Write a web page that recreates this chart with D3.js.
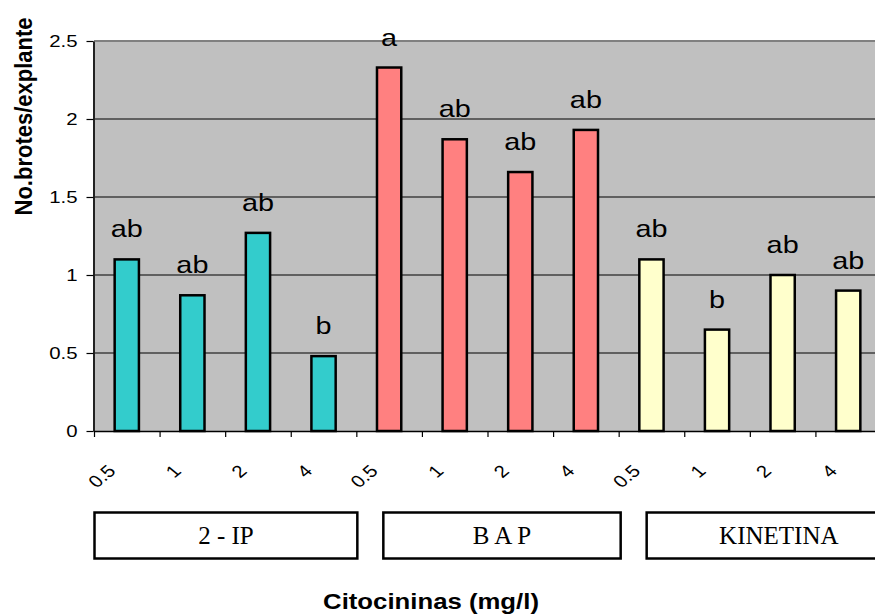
<!DOCTYPE html>
<html>
<head>
<meta charset="utf-8">
<script src="https://cdn.jsdelivr.net/npm/d3@7"></script>
<style>
  html, body { margin: 0; padding: 0; background: #fff; }
  svg { display: block; }
</style>
</head>
<body>
<svg id="chart" width="875" height="615"></svg>
<script>
// Shoots per explant by cytokinin type and concentration (mg/l)
const groups = ["2 - IP", "B A P", "KINETINA"];
const doses = ["0.5", "1", "2", "4"];
const values2IP = [1.1, 0.87, 1.27, 0.48];
const valuesBAP = [2.33, 1.87, 1.66, 1.93];
const valuesKIN = [1.1, 0.65, 1.0, 0.9];
const letters2IP = ["ab", "ab", "ab", "b"];
const lettersBAP = ["a", "ab", "ab", "ab"];
const lettersKIN = ["ab", "b", "ab", "ab"];
const yTicks = [0, 0.5, 1, 1.5, 2, 2.5];
const groupColors = ["#33CCCC", "#FF8080", "#FFFFCC"];

const seriesValues = [values2IP, valuesBAP, valuesKIN];
const seriesLetters = [letters2IP, lettersBAP, lettersKIN];
const rows = [];
groups.forEach((g, gi) => {
  doses.forEach((d, di) => {
    rows.push({ key: gi + "-" + di, group: gi, dose: d,
                value: seriesValues[gi][di], letter: seriesLetters[gi][di] });
  });
});

const svg = d3.select("#chart");
const plot = { left: 94, right: 881, top: 41, bottom: 431 };
const sx = 1.2; // horizontal stretch applied to sans-serif text

const x = d3.scaleBand()
  .domain(rows.map(r => r.key))
  .range([plot.left, plot.right])
  .paddingInner(0.63)
  .paddingOuter(0.315);
const bounds = d3.scaleLinear().domain([0, rows.length]).range([plot.left, plot.right]);
const y = d3.scaleLinear().domain([0, 2.5]).range([plot.bottom, plot.top]);

// plot background
svg.append("rect")
  .attr("x", plot.left).attr("y", plot.top)
  .attr("width", plot.right - plot.left).attr("height", plot.bottom - plot.top)
  .attr("fill", "#C0C0C0");

// gridlines
svg.append("g").selectAll("line")
  .data(yTicks.filter(t => t > 0 && t < 2.5))
  .join("line")
  .attr("x1", plot.left).attr("x2", plot.right)
  .attr("y1", d => y(d)).attr("y2", d => y(d))
  .attr("stroke", "#000").attr("stroke-width", 1);

// top border of plot area
svg.append("line")
  .attr("x1", plot.left).attr("x2", plot.right)
  .attr("y1", plot.top).attr("y2", plot.top)
  .attr("stroke", "#808080").attr("stroke-width", 2);

// bars
svg.append("g").selectAll("rect")
  .data(rows)
  .join("rect")
  .attr("x", d => x(d.key))
  .attr("width", x.bandwidth())
  .attr("y", d => y(d.value))
  .attr("height", d => y(0) - y(d.value))
  .attr("fill", d => groupColors[d.group])
  .attr("stroke", "#000").attr("stroke-width", 2.5);

// y axis
const yAxis = svg.append("g")
  .attr("transform", `translate(${plot.left - 0.5},0)`)
  .call(d3.axisLeft(y).tickValues(yTicks).tickSize(7).tickSizeOuter(0)
        .tickFormat(d3.format("")));
yAxis.select(".domain").attr("stroke", "#222").attr("stroke-width", 2);
yAxis.selectAll(".tick line").attr("stroke", "#000").attr("stroke-width", 1.2);
yAxis.selectAll(".tick text").remove();
yAxis.selectAll(".tick").append("text")
  .attr("transform", `translate(-16,0) scale(${sx},1)`)
  .attr("dy", "0.35em")
  .attr("text-anchor", "end")
  .attr("fill", "#000")
  .style("font-family", "Arial, 'Liberation Sans', sans-serif")
  .style("font-size", "17px")
  .text(d => d);

// x axis with ticks at category boundaries
const xAxis = svg.append("g")
  .attr("transform", `translate(0,${plot.bottom})`)
  .call(d3.axisBottom(bounds).tickValues(d3.range(0, rows.length + 1))
        .tickSize(6).tickSizeOuter(0).tickFormat(""));
xAxis.select(".domain").attr("stroke", "#000").attr("stroke-width", 1.5);
xAxis.selectAll(".tick line").attr("stroke", "#000").attr("stroke-width", 1.2);

// rotated dose labels
svg.append("g").selectAll("text")
  .data(rows)
  .join("text")
  .attr("transform", d => `translate(${x(d.key) + x.bandwidth() / 2 - 10},${plot.bottom + 41}) scale(${sx},1) rotate(-45)`)
  .attr("text-anchor", "end")
  .attr("fill", "#000")
  .style("font-family", "Arial, 'Liberation Sans', sans-serif")
  .style("font-size", "17px")
  .text(d => d.dose);

// significance letters above bars
svg.append("g").selectAll("text")
  .data(rows)
  .join("text")
  .attr("transform", d => `translate(${x(d.key) + x.bandwidth() / 2},${y(d.value) - 22}) scale(${sx},1)`)
  .attr("text-anchor", "middle")
  .attr("fill", "#000")
  .style("font-family", "Arial, 'Liberation Sans', sans-serif")
  .style("font-size", "24px")
  .text(d => d.letter);

// cytokinin group boxes
const boxInset = [[0.5, -1], [27, -2], [28, -30]];
const boxes = groups.map((g, gi) => {
  const x0 = bounds(gi * doses.length) + boxInset[gi][0];
  const x1 = bounds((gi + 1) * doses.length) - boxInset[gi][1];
  return { name: g, x0, x1 };
});
const boxG = svg.append("g").selectAll("g").data(boxes).join("g");
boxG.append("rect")
  .attr("x", d => d.x0).attr("y", 512.5)
  .attr("width", d => d.x1 - d.x0).attr("height", 46)
  .attr("fill", "#fff").attr("stroke", "#000").attr("stroke-width", 2.5);
boxG.append("text")
  .attr("x", d => (d.x0 + d.x1) / 2).attr("y", 544)
  .attr("text-anchor", "middle")
  .attr("fill", "#000")
  .style("font-family", "'Times New Roman', 'Liberation Serif', serif")
  .style("font-size", "25px")
  .text(d => d.name);

// axis titles
svg.append("text")
  .attr("transform", `translate(431,609) scale(1.17,1)`)
  .attr("text-anchor", "middle")
  .attr("fill", "#000")
  .style("font-family", "Arial, 'Liberation Sans', sans-serif")
  .style("font-size", "22px").style("font-weight", "bold")
  .text("Citocininas (mg/l)");

svg.append("text")
  .attr("transform", `translate(32,116.5) scale(1.1,1) rotate(-90)`)
  .attr("text-anchor", "middle")
  .attr("fill", "#000")
  .style("font-family", "Arial, 'Liberation Sans', sans-serif")
  .style("font-size", "22px").style("font-weight", "bold")
  .text("No.brotes/explante");
</script>
</body>
</html>
